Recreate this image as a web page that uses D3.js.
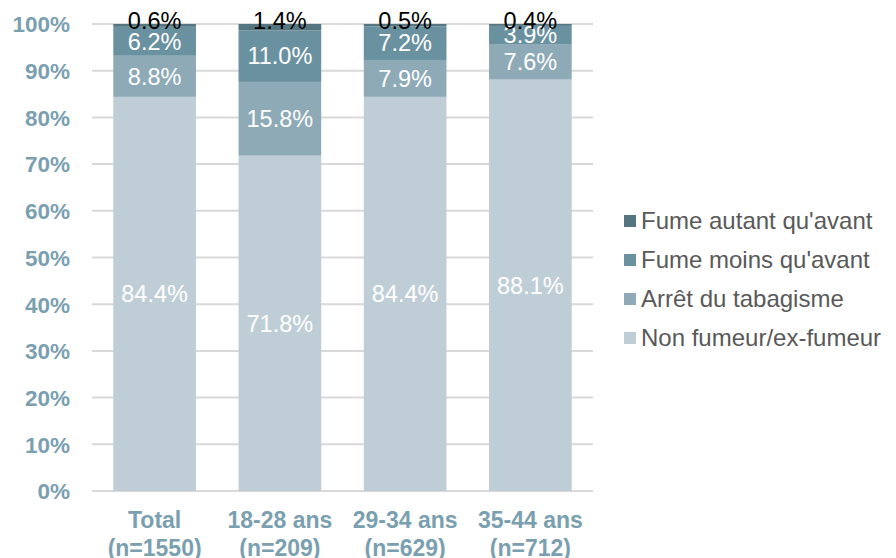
<!DOCTYPE html>
<html><head><meta charset="utf-8">
<script src="https://cdn.jsdelivr.net/npm/d3@7"></script>
<style>body{margin:0;background:#fff}text{font-family:"Liberation Sans",Arial,sans-serif}</style>
</head><body><svg id="c" width="896" height="558"></svg>
<script>
const categories = ["Total|(n=1550)", "18-28 ans|(n=209)", "29-34 ans|(n=629)", "35-44 ans|(n=712)"];
const seriesNames = ["Non fumeur/ex-fumeur", "Arrêt du tabagisme", "Fume moins qu'avant", "Fume autant qu'avant"];
const nonFumeur = [84.4, 71.8, 84.4, 88.1];
const arret = [8.8, 15.8, 7.9, 7.6];
const moins = [6.2, 11.0, 7.2, 3.9];
const autant = [0.6, 1.4, 0.5, 0.4];
const yTicks = [0,10,20,30,40,50,60,70,80,90,100];
const colors = ["#bfced6", "#8eaab7", "#6a919f", "#557680"];
const labelColors = ["#fff", "#fff", "#fff", "#000"];

const series = [nonFumeur, arret, moins, autant];
const rows = categories.map((c,i)=>{const o={cat:c}; seriesNames.forEach((s,j)=>o[s]=series[j][i]); return o;});
const stacked = d3.stack().keys(seriesNames)(rows);

const svg = d3.select("#c");
const x = d3.scaleBand().domain(categories).range([92, 593]).paddingInner(0.34).paddingOuter(0.17);
const y = d3.scaleLinear().domain([0,100]).range([491, 24]);

svg.append("g").selectAll("line").data(yTicks).join("line")
  .attr("x1", 92).attr("x2", 593).attr("y1", d=>y(d)).attr("y2", d=>y(d))
  .attr("stroke", "#d9d9d9").attr("stroke-width", 2);

const yAxis = d3.axisLeft(y).tickValues(yTicks).tickFormat(d=>d+"%").tickSize(0).tickPadding(0);
const ya = svg.append("g").attr("transform","translate(70,0)").call(yAxis);
ya.select(".domain").remove();
ya.selectAll("text").attr("fill","#7aa0b0").attr("font-size",22.5).attr("font-weight","bold").attr("dy","0.35em")
  .style("font-family",'"Liberation Sans",Arial,sans-serif');

const g = svg.append("g");
stacked.forEach((layer,j)=>{
  g.selectAll(null).data(layer).join("rect")
    .attr("x", d=>x(d.data.cat)).attr("width", x.bandwidth())
    .attr("y", d=>y(d[1])).attr("height", d=>y(d[0])-y(d[1]))
    .attr("fill", colors[j]);
});
stacked.forEach((layer,j)=>{
  g.selectAll(null).data(layer).join("text")
    .attr("x", d=>x(d.data.cat)+x.bandwidth()/2)
    .attr("y", d=>j===3 ? y(d[1])-3 : y((d[0]+d[1])/2))
    .attr("dy","0.35em").attr("text-anchor","middle")
    .attr("font-size",23.5).attr("fill",labelColors[j])
    .text(d=>(d[1]-d[0]).toFixed(1)+"%");
});

const xa = svg.append("g");
categories.forEach(c=>{
  const parts = c.split("|");
  parts.forEach((p,k)=>{
    xa.append("text").attr("x", x(c)+x.bandwidth()/2).attr("y", 520+k*28).attr("dy","0.35em")
      .attr("text-anchor","middle").attr("font-size",23).attr("font-weight","bold")
      .attr("fill","#7aa0b0").text(p);
  });
});

const legOrder = [3,2,1,0];
const lg = svg.append("g");
legOrder.forEach((j,i)=>{
  const yy = 221 + i*39;
  lg.append("rect").attr("x",624).attr("y",yy-6).attr("width",12).attr("height",12).attr("fill",colors[j]);
  lg.append("text").attr("x",641).attr("y",yy).attr("dy","0.35em").attr("font-size",24).attr("fill","#595959").text(seriesNames[j]);
});
</script></body></html>
